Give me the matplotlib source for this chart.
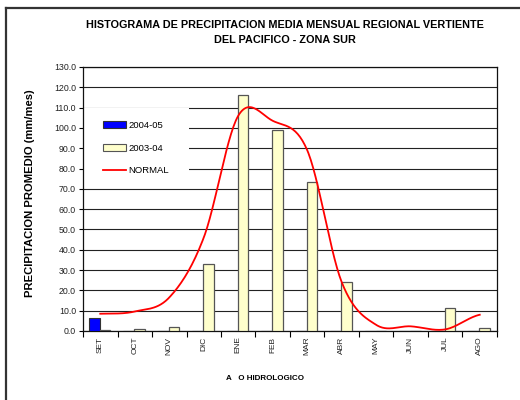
import numpy as np
import matplotlib
matplotlib.use("Agg")
import matplotlib.pyplot as plt
from matplotlib.patches import Patch, Rectangle
from matplotlib.lines import Line2D

plt.rcParams['font.family'] = ['Liberation Sans', 'DejaVu Sans']

months = ["SET", "OCT", "NOV", "DIC", "ENE", "FEB", "MAR", "ABR", "MAY", "JUN", "JUL", "AGO"]
serie_2004_05 = [6.3, 0, 0, 0, 0, 0, 0, 0, 0, 0, 0, 0]
serie_2003_04 = [0.3, 1.2, 2.2, 33.2, 116.0, 99.0, 73.5, 24.0, 0.0, 0.0, 11.2, 1.6]
normal = [8.5, 9.6, 16.5, 46.0, 106.0, 103.5, 89.0, 24.0, 3.0, 2.3, 0.8, 8.0]
yticks = np.arange(0, 131, 10)

fig = plt.figure(figsize=(5.2, 4.0), dpi=100)
ax = fig.add_axes([83/520, 1-331/400, (497-83)/520, (331-67)/400])

x = np.arange(len(months))
w = 0.31
ax.bar(x - w/2 - 0.02, serie_2004_05, width=w, color='#0000ff', edgecolor='#333333', linewidth=0.8, zorder=3)
ax.bar(x + w/2 - 0.02, serie_2003_04, width=w, color='#ffffcc', edgecolor='#555555', linewidth=0.9, zorder=3)

# Catmull-Rom smoothing of the normal curve
p = np.array(normal, dtype=float)
n = len(p)
xs, ys = [], []
for i in range(n - 1):
    p0 = p[i-1] if i > 0 else p[i]
    p3 = p[i+2] if i + 2 < n else p[i+1]
    m1 = (p[i+1] - p0) / 2.0
    m2 = (p3 - p[i]) / 2.0
    t = np.linspace(0, 1, 30)
    h00 = 2*t**3 - 3*t**2 + 1
    h10 = t**3 - 2*t**2 + t
    h01 = -2*t**3 + 3*t**2
    h11 = t**3 - t**2
    xs.extend(x[i] + t)
    ys.extend(h00*p[i] + h10*m1 + h01*p[i+1] + h11*m2)
ax.plot(xs, ys, color='#ff0000', lw=1.3, zorder=4)

ax.set_xlim(-0.5, len(months) - 0.5)
ax.set_ylim(0, 130)
ax.set_yticks(yticks)
ax.set_yticklabels([f"{v:.1f}" for v in yticks], fontsize=6.3, color='#222222')
ax.yaxis.grid(True, color='#222222', lw=0.8, zorder=0)
ax.set_axisbelow(True)
ax.tick_params(axis='y', direction='out', length=3, width=0.8, pad=2)

ax.set_xticks(x)
ax.set_xticklabels(months, rotation=90, fontsize=6, color='#222222')
ax.set_xticks(np.arange(-0.5, len(months)), minor=True)
ax.tick_params(axis='x', which='major', length=0, pad=4)
ax.tick_params(axis='x', which='minor', direction='out', length=4, width=0.8)
for s in ax.spines.values():
    s.set_color('#111111')
    s.set_linewidth(0.9)

# white background of the legend area
ax.add_patch(Rectangle(((84-83)/414, (331-188)/264), (189-84)/414, (188-108)/264,
                       transform=ax.transAxes, facecolor='white', edgecolor='none', zorder=2))

handles = [Patch(facecolor='#0000ff', edgecolor='#333333', linewidth=0.8),
           Patch(facecolor='#ffffcc', edgecolor='#555555', linewidth=0.8),
           Line2D([0], [0], color='#ff0000', lw=1.3)]
leg = ax.legend(handles, ["2004-05", "2003-04", "NORMAL"], loc='upper left',
                bbox_to_anchor=((103-83)/414, (331-121)/264), fontsize=6.8, frameon=False,
                handlelength=2.4, handleheight=0.7, handletextpad=0.3,
                labelspacing=1.45, borderpad=0.0, borderaxespad=0.0)
leg.set_zorder(5)

fig.text(285/520, 1-32.5/400, "HISTOGRAMA DE PRECIPITACION MEDIA MENSUAL REGIONAL VERTIENTE\nDEL PACIFICO - ZONA SUR",
         ha='center', va='center', fontsize=7.8, fontweight='bold', linespacing=1.55)
fig.text(30/520, 1-193/400, "PRECIPITACION PROMEDIO (mm/mes)", rotation=90,
         ha='center', va='center', fontsize=8.1, fontweight='bold')
fig.text(265/520, 1-379/400, "A   O HIDROLOGICO", ha='center', va='center',
         fontsize=5.8, fontweight='bold')

# outer frame (top and left edges)
fig.add_artist(Line2D([5.5/520, 1], [1-7.5/400, 1-7.5/400], transform=fig.transFigure, color='#333333', lw=1.6))
fig.add_artist(Line2D([5.5/520, 5.5/520], [0, 1-7.5/400], transform=fig.transFigure, color='#333333', lw=1.6))

fig.savefig("out.png", dpi=100)
